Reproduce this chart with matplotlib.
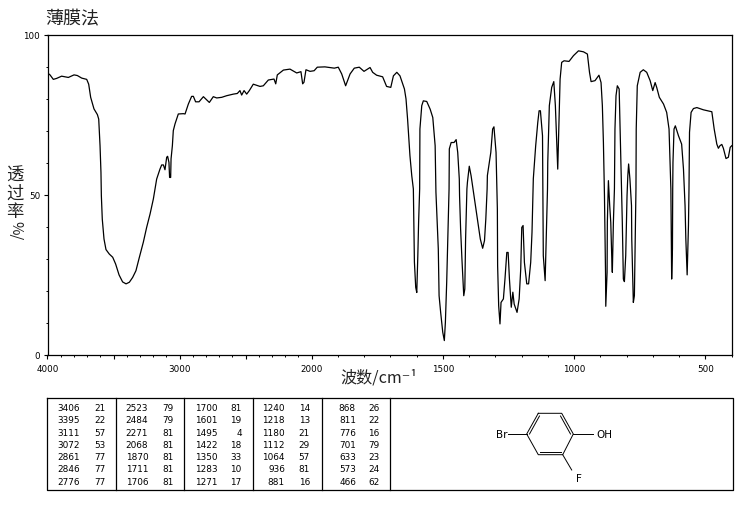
import numpy as np
import matplotlib
matplotlib.use('Agg')
import matplotlib.pyplot as plt

plt.rcParams['font.family'] = ['Noto Sans CJK SC', 'DejaVu Sans']

# spectrum: wavenumber (cm-1), transmittance (%)
wavenumber = [
    4000, 3981, 3956, 3931, 3893, 3842, 3799, 3774, 3741, 3703, 3688, 3673, 3648, 3622, 3612, 3602, 3595, 3592,
    3585, 3572, 3557, 3532, 3506, 3484, 3458, 3431, 3405, 3380, 3355, 3330, 3304, 3274, 3249, 3223, 3198,
    3173, 3148, 3135, 3122, 3110, 3097, 3090, 3080, 3075, 3067, 3064, 3054, 3047, 3034, 3009, 2971, 2958, 2933,
    2908, 2895, 2878, 2852, 2819, 2774, 2744, 2718, 2680, 2643, 2592, 2562, 2542, 2529, 2511, 2491, 2471, 2441,
    2390, 2365, 2327, 2284, 2271, 2259, 2213, 2163, 2112, 2080, 2067, 2057, 2042, 2011, 1990, 1978, 1949, 1913,
    1898, 1885, 1870, 1853, 1837, 1818, 1800, 1783,
    1777, 1767, 1752, 1729, 1714, 1698, 1688, 1675, 1663, 1646, 1640, 1634, 1625, 1618, 1612, 1611, 1610, 1608,
    1603, 1599, 1595, 1592, 1588, 1587, 1580, 1574, 1561, 1548, 1538, 1529, 1526, 1517, 1514, 1508, 1500, 1494,
    1490, 1485, 1479, 1476, 1475, 1468, 1457, 1449, 1443, 1437, 1436, 1432, 1427, 1420, 1416, 1413, 1408, 1406,
    1399, 1392, 1383, 1381, 1368, 1357, 1348, 1341, 1336, 1331, 1330, 1317, 1310, 1305, 1297, 1292, 1291, 1287,
    1282, 1278, 1269, 1263, 1256, 1251, 1246, 1239, 1233, 1228, 1217, 1209, 1203, 1199, 1194, 1189, 1180, 1173,
    1165, 1160, 1155, 1146, 1138, 1133, 1128, 1120, 1117, 1110, 1105, 1101, 1100, 1094, 1085, 1077, 1071, 1062,
    1058, 1053, 1047, 1038, 1019, 1002, 983, 964, 949, 941, 935, 920, 905, 897, 892, 888, 884, 880, 879, 874, 873,
    870, 869, 864, 860, 856, 854, 850, 846, 844, 840, 835, 828, 825, 818, 816, 812, 808, 803, 799, 798, 795, 792,
    787, 781, 780, 774, 770, 766, 764, 763, 759, 748, 736, 723, 710, 700, 691, 685, 675, 659, 647, 638, 634, 631, 629,
    628, 625, 624, 623, 619, 614, 602, 590, 583, 577, 574, 569, 564, 562, 560, 554, 545, 532, 507, 475, 466, 456,
    450, 444, 437, 431, 421, 412, 405, 399,
]
transmittance = [
    88.0, 87.4, 86.0, 86.3, 87.0, 86.6, 87.4, 87.2, 86.4, 86.0, 84.5, 80.4, 76.8, 75.0, 73.6, 65.3, 57.0, 49.7,
    42.4, 36.2, 32.9, 31.5, 30.5, 28.4, 25.0, 22.8, 22.2, 22.7, 24.2, 26.3, 30.5, 35.2, 39.8, 44.0, 48.7,
    54.9, 58.0, 59.3, 59.3, 57.8, 61.7, 62.0, 60.1, 55.4, 55.4, 61.2, 65.3, 70.0, 72.1, 75.2, 75.3, 75.2, 78.3,
    80.7, 80.7, 79.0, 79.0, 80.6, 78.8, 80.6, 80.2, 80.4, 80.9, 81.4, 81.6, 82.5, 81.1, 82.5, 81.4, 82.5, 84.5,
    83.8, 84.0, 85.8, 86.1, 84.6, 87.4, 88.9, 89.2, 88.0, 88.4, 84.6, 85.1, 89.0, 88.5, 88.7, 89.8, 89.9, 89.5,
    89.8, 87.7, 84.0, 87.7, 89.5, 89.8, 88.5, 89.4,
    89.7, 88.2, 87.3, 86.8, 83.8, 83.5, 87.1, 88.2, 87.1, 83.0, 79.9, 73.6, 62.2, 55.9, 51.8, 45.5, 41.4, 29.0,
    21.1, 19.5, 31.0, 41.4, 51.8, 70.5, 77.8, 79.3, 79.1, 76.7, 74.1, 65.3, 50.8, 33.1, 18.5, 13.3, 7.1, 4.5,
    10.2, 22.7, 41.4, 51.8, 64.3, 66.3, 66.3, 67.2, 63.2, 54.9, 49.7, 39.3, 30.0, 18.5, 20.6, 36.2, 51.8, 53.9,
    58.9, 55.9, 50.7, 49.7, 42.4, 36.2, 33.3, 35.7, 42.4, 51.8, 56.0, 63.2, 70.5, 71.2, 63.2, 45.5, 27.9, 15.4,
    9.7, 16.4, 17.5, 23.7, 32.0, 32.0, 23.7, 14.9, 19.6, 15.9, 13.3, 17.5, 26.8, 39.8, 40.4, 28.9, 22.2, 22.2,
    28.9, 38.3, 55.0, 65.3, 72.6, 76.2, 76.2, 68.4, 31.0, 23.2, 39.3, 51.8, 60.1, 77.8, 83.5, 85.3, 77.8, 58.0,
    70.5, 86.1, 91.3, 91.8, 91.6, 93.4, 94.9, 94.6, 93.9, 88.2, 85.3, 85.6, 87.3, 85.0, 77.8, 66.3, 49.7, 25.8, 15.2, 25.8, 41.4,
    50.8, 54.4, 46.6, 41.4, 30.0, 25.8, 41.4, 51.8, 70.5, 80.9, 84.0, 83.0, 72.6, 49.7, 41.4, 23.7, 22.9, 31.0, 45.6, 49.7, 56.0, 59.6,
    54.9, 46.6, 36.2, 16.4, 18.5, 41.4, 51.8, 70.5, 84.0, 88.2, 89.0, 88.2, 85.6, 82.5, 85.0, 83.5, 80.4, 78.3, 75.7, 70.5, 60.1, 51.8, 32.0,
    23.7, 33.1, 51.8, 60.1, 70.5, 71.5, 68.4, 65.8, 58.0, 46.6, 36.2, 25.0, 40.4, 51.8, 69.5, 75.7, 76.9, 77.2, 76.5, 75.9, 70.5, 65.8,
    64.5, 65.3, 65.7, 64.5, 61.3, 61.7, 64.8, 65.3,
]

# peak table, column by column
peak_wn = [
    ['3406', '3395', '3111', '3072', '2861', '2846', '2776'],
    ['2523', '2484', '2271', '2068', '1870', '1711', '1706'],
    ['1700', '1601', '1495', '1422', '1350', '1283', '1271'],
    ['1240', '1218', '1180', '1112', '1064', '936', '881'],
    ['868', '811', '776', '701', '633', '573', '466'],
]
peak_t = [
    ['21', '22', '57', '53', '77', '77', '77'],
    ['79', '79', '81', '81', '81', '81', '81'],
    ['81', '19', '4', '18', '33', '10', '17'],
    ['14', '13', '21', '29', '57', '81', '16'],
    ['26', '22', '16', '79', '23', '24', '62'],
]
major_ticks = [4000, 3500, 3000, 2500, 2000, 1500, 1000, 500]
major_labels = ['4000', '', '3000', '', '2000', '1500', '1000', '500']
y_ticks = [0, 50, 100]
y_labels = ['0', '50', '100']

W, H = 737, 510

# axis is twice as stretched below 2000
# has to increase with v or the inverted xlim comes out flipped
def forward(v):
    v = np.asarray(v, dtype=float)
    return np.where(v > 2000, v, 2000 - (2000 - v) * 262.5 / 132)

def inverse(u):
    u = np.asarray(u, dtype=float)
    return np.where(u > 2000, u, 2000 - (2000 - u) * 132 / 262.5)

fig = plt.figure(figsize=(W / 100, H / 100), dpi=100)
ax = fig.add_axes([47.5 / W, 1 - 356 / H, (732.3 - 47.5) / W, 320.5 / H])
ax.plot(wavenumber, transmittance, color='black', lw=0.9)
ax.set_xscale('function', functions=(forward, inverse))
ax.set_xlim(4000, 397)
ax.set_ylim(0, 100)
ax.set_xticks(major_ticks)
ax.set_xticklabels(major_labels, fontsize=6.3, family='DejaVu Sans')
ax.set_xticks(np.arange(400, 4000, 100), minor=True)
ax.set_yticks(y_ticks)
ax.set_yticklabels(y_labels, fontsize=6.3, family='DejaVu Sans')
ax.set_yticks(np.arange(0, 101, 10), minor=True)
ax.tick_params(axis='both', which='major', length=3.2, width=0.8, pad=2)
ax.tick_params(axis='both', which='minor', length=1.6, width=0.7)
ax.tick_params(axis='x', which='major', pad=3)
for s in ax.spines.values():
    s.set_linewidth(0.9)

# overlay in image pixels for the texts, the table and the structure
ov = fig.add_axes([0, 0, 1, 1], facecolor='none')
ov.set_xlim(0, W)
ov.set_ylim(H, 0)
ov.axis('off')

ov.text(45.5, 19, '薄膜法', fontsize=13, color='#222222', ha='left', va='center')
ov.text(340, 378, '波数/cm⁻¹', fontsize=11.6, color='#222222', ha='left', va='center')
for ch, y in zip('透过率', [176, 194, 212]):
    ov.text(15, y, ch, fontsize=12.5, color='#222222', ha='center', va='center')
ov.text(15.5, 231, '%/', fontsize=10.5, color='#222222', rotation=270, ha='center', va='center')

# table frame
ov.plot([47.3, 732.7, 732.7, 47.3, 47.3], [399.3, 399.3, 491.3, 491.3, 399.3], color='black', lw=0.9)
for x in [116.3, 184.3, 253.3, 321.7, 390.3]:
    ov.plot([x, x], [399.3, 491.3], color='black', lw=0.9)

row_y = [408.3, 420.7, 433.3, 445.3, 457.7, 470, 482.7]
col_wn = [80, 148.3, 217.3, 285, 356]
col_t = [105.3, 174, 241.7, 310, 379.3]
for c in range(5):
    for r in range(7):
        ov.text(col_wn[c], row_y[r], peak_wn[c][r], fontsize=6.4, family='DejaVu Sans', ha='right', va='center')
        ov.text(col_t[c], row_y[r], peak_t[c][r], fontsize=6.4, family='DejaVu Sans', ha='right', va='center')

# 4-bromo-2-fluorophenol
ring_x = [538.3, 561.7, 573.3, 562.7, 538.3, 526.7, 538.3]
ring_y = [414.3, 414.3, 435, 455.7, 455.7, 435, 414.3]
ov.plot(ring_x, ring_y, color='black', lw=0.7)
ov.plot([539.5, 529.5], [417, 435], color='black', lw=0.7)
ov.plot([560.5, 570.5], [417, 435], color='black', lw=0.7)
ov.plot([540, 561], [453.2, 453.2], color='black', lw=0.7)
ov.plot([508.3, 526.7], [435, 435], color='black', lw=0.7)
ov.plot([573.3, 593.3], [435, 435], color='black', lw=0.7)
ov.plot([562.7, 571.7], [455.7, 471], color='black', lw=0.7)
ov.text(507.5, 435, 'Br', fontsize=7.5, family='DejaVu Sans', ha='right', va='center')
ov.text(596.5, 435, 'OH', fontsize=7.5, family='DejaVu Sans', ha='left', va='center')
ov.text(579, 479.5, 'F', fontsize=7.5, family='DejaVu Sans', ha='center', va='center')

fig.savefig('out.png', dpi=100)
